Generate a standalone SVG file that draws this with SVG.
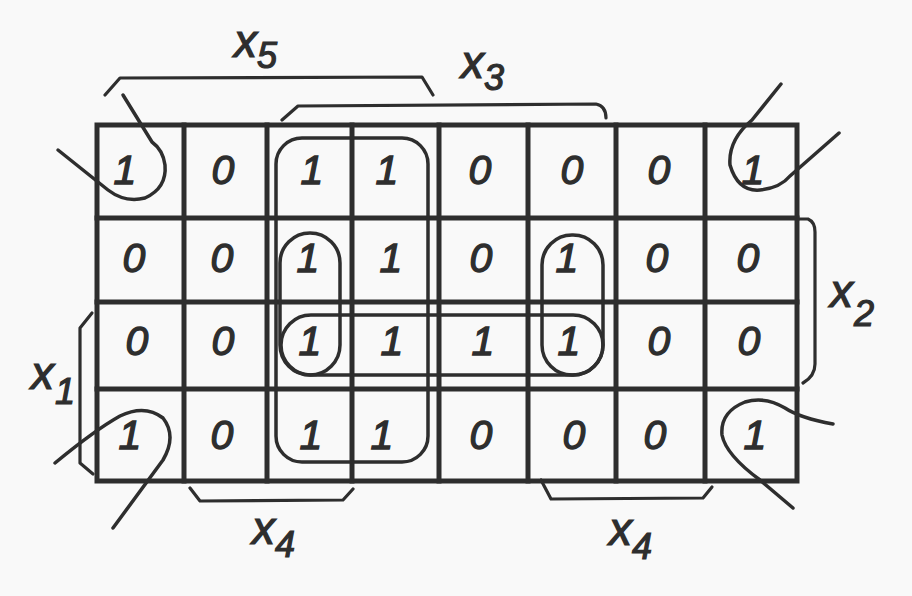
<svg xmlns="http://www.w3.org/2000/svg" width="912" height="596" viewBox="0 0 912 596">
<style>
.grid{fill:none;stroke:#2e2e2e;stroke-width:5;stroke-linecap:square}
.loop{fill:none;stroke:#2e2e2e;stroke-width:3.5;stroke-linecap:round;stroke-linejoin:round}
.br{fill:none;stroke:#2e2e2e;stroke-width:3.2;stroke-linecap:round;stroke-linejoin:round}
.d{font-family:"Liberation Sans",Arial,sans-serif;font-style:italic;font-size:41px;fill:#2e2e2e;stroke:#2e2e2e;stroke-width:1.3;text-anchor:middle}
.lab{font-family:"Liberation Sans",Arial,sans-serif;font-style:italic;font-size:46px;fill:#2e2e2e;stroke:#2e2e2e;stroke-width:1.2}
.sub{font-size:36px}
</style>
<rect width="912" height="596" fill="#f9f9f9"/>
<g id="grid">
<rect class="grid" x="97" y="125" width="700" height="356"/>
<path class="grid" d="M184,125V481M267,125V481M352,125V481M439,125V481M528,125V481M616,125V481M705,125V481M97,218H797M97,302H797M97,389H797"/>
</g>
<g id="cells">
<text class="d" x="125" y="184">1</text><text class="d" x="223" y="184">0</text><text class="d" x="312" y="184">1</text><text class="d" x="387" y="184">1</text><text class="d" x="480" y="184">0</text><text class="d" x="572" y="184">0</text><text class="d" x="659" y="184">0</text><text class="d" x="753" y="184">1</text>
<text class="d" x="134" y="272">0</text><text class="d" x="222" y="272">0</text><text class="d" x="308" y="272">1</text><text class="d" x="391" y="272">1</text><text class="d" x="481" y="272">0</text><text class="d" x="567" y="272">1</text><text class="d" x="657" y="272">0</text><text class="d" x="748" y="272">0</text>
<text class="d" x="137" y="355">0</text><text class="d" x="223" y="355">0</text><text class="d" x="310" y="355">1</text><text class="d" x="392" y="355">1</text><text class="d" x="483" y="355">1</text><text class="d" x="569" y="355">1</text><text class="d" x="659" y="355">0</text><text class="d" x="749" y="355">0</text>
<text class="d" x="130" y="449">1</text><text class="d" x="222" y="449">0</text><text class="d" x="311" y="449">1</text><text class="d" x="382" y="449">1</text><text class="d" x="481" y="449">0</text><text class="d" x="574" y="449">0</text><text class="d" x="655" y="449">0</text><text class="d" x="755" y="449">1</text>
</g>
<g id="loops">
<rect class="loop" x="276" y="138" width="152" height="324" rx="26"/>
<rect class="loop" x="280" y="233" width="60" height="142" rx="30"/>
<rect class="loop" x="281" y="315" width="322" height="60" rx="30"/>
<rect class="loop" x="542" y="235" width="61" height="140" rx="30"/>
<path class="loop" d="M58,150 L108,190 Q125,203 145,198 Q167,188 165,165 Q163,150 152,142 L123,95"/>
<path class="loop" d="M781,84 L752,120 Q728,140 730,165 Q738,192 760,190 Q780,188 790,176 L839,133"/>
<path class="loop" d="M55,463 Q95,430 120,416 Q145,404 163,418 Q177,436 163,460 L113,528"/>
<path class="loop" d="M833,424 Q800,418 785,408 Q765,396 745,402 Q720,412 722,435 Q726,455 760,480 L793,508"/>
</g>
<g id="brackets">
<path class="br" d="M105,95 L120,78 L422,77 L433,95"/>
<path class="br" d="M282,120 L298,106 L596,104 Q606,106 606,118"/>
<path class="br" d="M797,219 L808,219 Q815,222 815,232 L815,364 Q815,376 803,383"/>
<path class="br" d="M92,313 L80,328 L80,463 L93,474"/>
<path class="br" d="M190,488 L200,501 L343,500 L353,489"/>
<path class="br" d="M541,480 L551,499 L703,498 L712,487"/>
</g>
<g id="labels">
<text class="lab" x="234" y="57">x<tspan class="sub" dy="11">5</tspan></text>
<text class="lab" x="461" y="78">x<tspan class="sub" dy="12">3</tspan></text>
<text class="lab" x="830" y="307">x<tspan class="sub" dx="1" dy="19">2</tspan></text>
<text class="lab" x="31" y="389">x<tspan class="sub" dx="1" dy="15">1</tspan></text>
<text class="lab" x="252" y="544">x<tspan class="sub" dy="13">4</tspan></text>
<text class="lab" x="609" y="545">x<tspan class="sub" dy="14">4</tspan></text>
</g>
</svg>
